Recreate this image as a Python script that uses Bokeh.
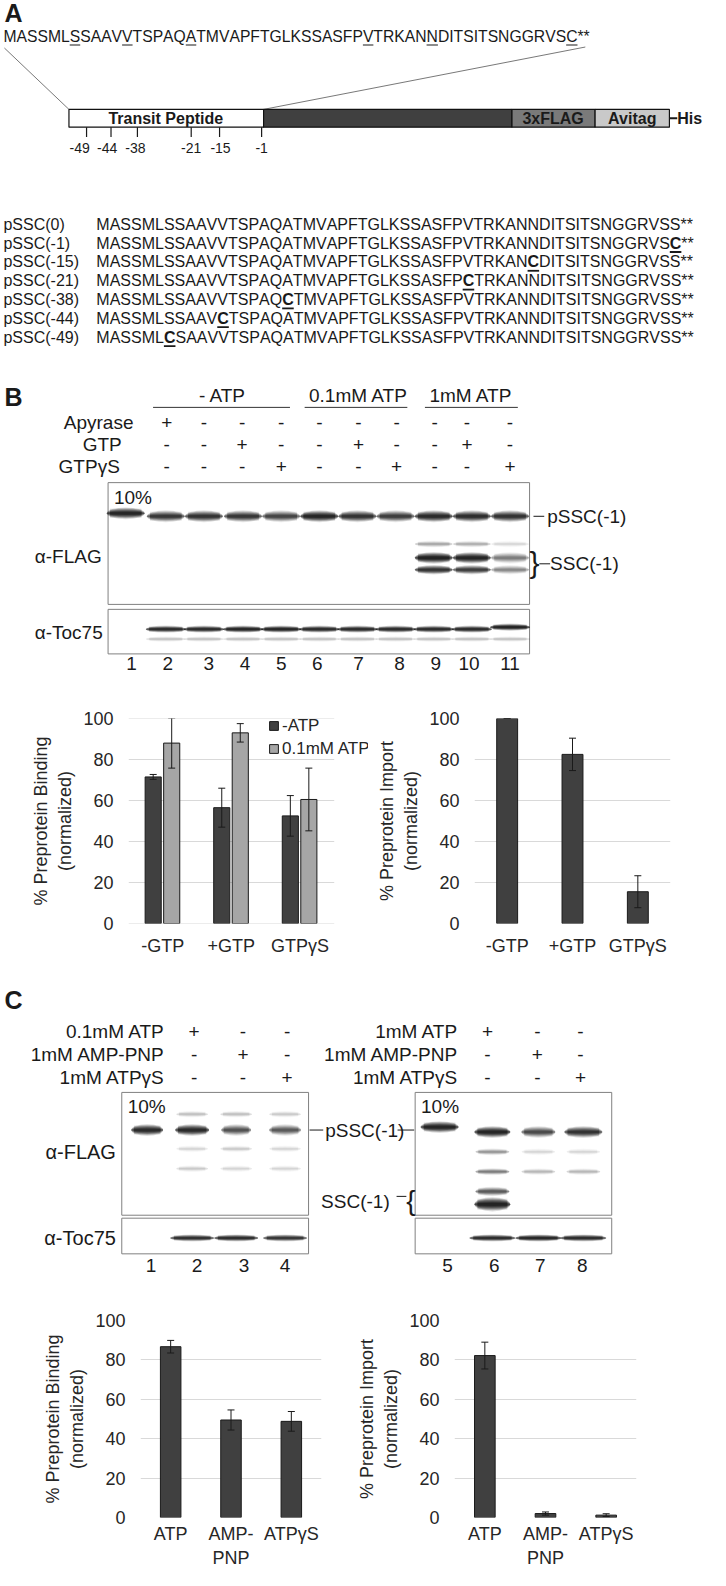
from bokeh.plotting import figure
from bokeh.layouts import column, row
from bokeh.models import Range1d, FactorRange, Legend, LegendItem, ColumnDataSource, FixedTicker
from bokeh.transform import dodge
from bokeh.core.properties import value
from bokeh.embed import file_html
from bokeh.resources import INLINE

# ------------------------------------------------------------------ data
B_CATS = ["-GTP", "+GTP", "GTPγS"]
B_BIND_NOATP = [71.5, 56.5, 52.5]
B_BIND_NOATP_ERR = [1.2, 9.5, 9.9]
B_BIND_LOWATP = [88.0, 93.0, 60.5]
B_BIND_LOWATP_ERR = [12.2, 4.5, 15.3]
B_IMPORT = [100.0, 82.5, 15.5]
B_IMPORT_ERR = [0.0, 7.9, 7.8]

C_CATS = ["ATP", "AMP-\nPNP", "ATPγS"]
C_BIND = [86.7, 49.5, 48.8]
C_BIND_ERR = [3.2, 5.1, 5.0]
C_IMPORT = [82.2, 2.0, 1.2]
C_IMPORT_ERR = [6.8, 0.8, 0.7]
Y_TICKS = [0, 20, 40, 60, 80, 100]

SEQ_WT = "MASSMLSSAAVVTSPAQATMVAPFTGLKSSASFPVTRKANNDITSITSNGGRVSS**"
SEQ_TOP = "MASSMLSSAAVVTSPAQATMVAPFTGLKSSASFPVTRKANNDITSITSNGGRVSC**"
TOP_UNDERLINED = [7, 12, 18, 35, 41, 55]
CONSTRUCTS = ["pSSC(0)", "pSSC(-1)", "pSSC(-15)", "pSSC(-21)", "pSSC(-38)", "pSSC(-44)", "pSSC(-49)"]
CYS_POS = [0, 55, 41, 35, 18, 12, 7]
SITE_LABELS = ["-49", "-44", "-38", "-21", "-15", "-1"]

B_LANES = [str(i) for i in range(1, 12)]
B_PSSC = [0.95, 0.75, 0.8, 0.75, 0.65, 0.95, 0.8, 0.7, 0.9, 0.85, 0.8]
B_SSC_HI = [0, 0, 0, 0, 0, 0, 0, 0, 1.0, 0.95, 0.35]
B_SSC_LO = [0, 0, 0, 0, 0, 0, 0, 0, 0.8, 0.7, 0.3]
B_SSC_FAINT = [0, 0, 0, 0, 0, 0, 0, 0, 0.2, 0.18, 0.08]
B_TOC75 = [0, 0.9, 0.9, 0.95, 0.95, 0.9, 0.9, 0.9, 0.9, 0.9, 1.0]
B_APYRASE = ["+", "-", "-", "-", "-", "-", "-", "-", "-", "-"]
B_GTP = ["-", "-", "+", "-", "-", "+", "-", "-", "+", "-"]
B_GTPGS = ["-", "-", "-", "+", "-", "-", "+", "-", "-", "+"]
B_HEADERS = ["- ATP", "0.1mM ATP", "1mM ATP"]

C_ROWS_LEFT = ["0.1mM ATP", "1mM AMP-PNP", "1mM ATPγS"]
C_ROWS_RIGHT = ["1mM ATP", "1mM AMP-PNP", "1mM ATPγS"]
C_SIGNS = [["+", "-", "-"], ["-", "+", "-"], ["-", "-", "+"]]
C_LANES_LEFT = ["1", "2", "3", "4"]
C_LANES_RIGHT = ["5", "6", "7", "8"]
C_PSSC_LEFT = [0.9, 0.9, 0.55, 0.5]
C_PSSC_RIGHT = [0.95, 0.95, 0.6, 0.8]
C_TOC_LEFT = [0, 0.85, 0.9, 0.8]
C_TOC_RIGHT = [0, 0.9, 0.95, 0.9]

# ------------------------------------------------------------------ layout helpers
SX = 710 / 726
SY = 1570 / 1586
FONT = "Liberation Sans"
TXT = "#1a1a1a"
DARK = "#404040"
LIGHT = "#a6a6a6"
AXTXT = "#262626"

AW = {'M': 833, 'A': 667, 'S': 667, 'L': 556, 'V': 667, 'T': 611, 'P': 667, 'Q': 778,
      'F': 611, 'G': 778, 'K': 667, 'R': 722, 'N': 722, 'D': 722, 'I': 278, 'C': 722, '*': 389}


def canvas(y0, y1):
    h = round((y1 - y0) * SY)
    p = figure(width=710, height=h, x_range=Range1d(0, 726), y_range=Range1d(y1, y0),
               output_backend="svg", toolbar_location=None, min_border=0,
               x_axis_location=None, y_axis_location=None)
    p.grid.visible = False
    p.outline_line_color = None
    return p


def T(p, x, y, s, size=19, align="left", bold=False, color=TXT, base="middle"):
    p.text(x=[x], y=[y], text=[s], text_font=value(FONT), text_font_size=f"{size}px",
           text_align=align, text_baseline=base, text_color=color,
           text_font_style="bold" if bold else "normal")


def seq_chars(p, x0, yc, s, size, bold_idx=(), under_idx=(), under_w=1.1):
    """Sequence drawn letter by letter so that marked letters line up exactly."""
    xs, x = [], x0
    for ch in s:
        xs.append(x)
        x += AW[ch] * size / 1000 / SX
    for bold in (False, True):
        idx = [i for i in range(len(s)) if (i in bold_idx) == bold]
        if not idx:
            continue
        p.text(x=[xs[i] for i in idx], y=[yc] * len(idx), text=[s[i] for i in idx],
               text_font=value(FONT), text_font_size=f"{size}px", text_align="left",
               text_baseline="middle", text_color=TXT,
               text_font_style="bold" if bold else "normal")
    if under_idx:
        uy = yc + 0.47 * size + 1.5
        x0s = [xs[i] for i in under_idx]
        x1s = [xs[i] + AW[s[i]] * size / 1000 / SX for i in under_idx]
        p.segment(x0=x0s, x1=x1s, y0=[uy] * len(x0s), y1=[uy] * len(x0s), line_color=TXT, line_width=under_w)


def box(p, x0, x1, y0, y1, color="#808080"):
    p.quad(left=[x0], right=[x1], top=[y0], bottom=[y1], fill_color=None,
           line_color=color, line_width=1)


def bands(p, xs, ys, ws, h, inten):
    keep = [k for k, i in enumerate(inten) if i > 0]
    X = [xs[k] for k in keep]
    Y = [ys[k] for k in keep]
    W = [ws[k] for k in keep]
    I = [inten[k] for k in keep]
    for hs, a in ((2.4, 0.14), (2.0, 0.18), (1.6, 0.2), (1.25, 0.22), (0.9, 0.25), (0.55, 0.3)):
        p.ellipse(x=X, y=Y, width=[w * 1.02 for w in W], height=[h * hs] * len(X), fill_color="#0d0d0d",
                  fill_alpha=[a * i for i in I], line_color=None)
        p.rect(x=X, y=Y, width=[w * 0.85 for w in W], height=[h * hs * 0.8] * len(X), fill_color="#0d0d0d",
               fill_alpha=[a * i * 0.6 for i in I], line_color=None)


# ------------------------------------------------------------------ canvas 1: panel A + blot B
c1 = canvas(0, 700)
T(c1, 4, 13, "A", 25, bold=True)
seq_chars(c1, 3, 36, SEQ_TOP, 15.7, under_idx=[k - 1 for k in TOP_UNDERLINED])
c1.segment(x0=[4, 598], y0=[48, 47], x1=[70, 269], y1=[110, 110], line_color="#555555", line_width=0.8)
seg_l = [70, 269, 523, 608]
seg_r = [269, 523, 608, 684]
c1.quad(left=seg_l, right=seg_r, top=[110] * 4, bottom=[128] * 4,
        fill_color=["#ffffff", "#404040", "#7a7a7a", "#c9c9c9"], line_color="#111111", line_width=1.2)
T(c1, 169, 119.5, "Transit Peptide", 16, align="center", bold=True)
T(c1, 565, 119.5, "3xFLAG", 16, align="center", bold=True)
T(c1, 646, 119.5, "Avitag", 16, align="center", bold=True)
c1.segment(x0=[684], x1=[692], y0=[119], y1=[119], line_color=TXT, line_width=2)
T(c1, 692, 119.5, "His", 16, bold=True)
tick_x = [88, 113, 140, 195, 224, 267]
c1.segment(x0=tick_x, x1=tick_x, y0=[128] * 6, y1=[138] * 6, line_color=TXT, line_width=1.2)
lab_x = [81, 109, 138, 195, 225, 267]
for x, s in zip(lab_x, SITE_LABELS):
    T(c1, x, 149, s, 14, align="center")
SEQ_SIZE = 16
for i, (name, k) in enumerate(zip(CONSTRUCTS, CYS_POS)):
    yc = 226 + 19 * i
    T(c1, 3, yc, name, SEQ_SIZE)
    if k == 0:
        seq_chars(c1, 98, yc, SEQ_WT, SEQ_SIZE)
    else:
        s = SEQ_WT[:k - 1] + "C" + SEQ_WT[k:]
        seq_chars(c1, 98, yc, s, SEQ_SIZE, bold_idx=[k - 1], under_idx=[k - 1], under_w=1.8)

# panel B blot
T(c1, 4, 400, "B", 25, bold=True)
for cx, s in zip([227, 366, 481], B_HEADERS):
    T(c1, cx, 399, s, 19, align="center")
c1.segment(x0=[156, 311, 434], x1=[296, 416, 529], y0=[411] * 3, y1=[411] * 3, line_color="#333333", line_width=1)
sign_x = [170, 208, 247, 287, 326, 366, 405, 444, 477, 521]
for yy, lab, rx, signs in ((426, "Apyrase", 136, B_APYRASE), (448, "GTP", 124, B_GTP), (471, "GTPγS", 122, B_GTPGS)):
    T(c1, rx, yy, lab, 19, align="right")
    for x, s in zip(sign_x, signs):
        T(c1, x, yy, s, 19, align="center")
box(c1, 110, 541, 487, 610)
box(c1, 110, 541, 615, 660)
T(c1, 116, 502, "10%", 19)
T(c1, 35, 562, "α-FLAG", 19)
T(c1, 35, 638, "α-Toc75", 19)
lane_x = [128, 169, 208, 248, 287, 326, 365, 404, 443, 482, 521]
wid = [38] * 11
bands(c1, lane_x, [518] + [521] * 10, wid, 5, B_PSSC)
bands(c1, lane_x, [549] * 11, wid, 3, B_SSC_FAINT)
bands(c1, lane_x, [563] * 11, wid, 5, B_SSC_HI)
bands(c1, lane_x, [575] * 11, wid, 4, B_SSC_LO)
bands(c1, lane_x, [635] * 10 + [633], [40] * 11, 3, B_TOC75)
bands(c1, lane_x, [645] * 11, [40] * 11, 2.5, [0] + [0.12] * 10)
c1.segment(x0=[545], x1=[556], y0=[521], y1=[521], line_color=TXT, line_width=1)
T(c1, 559, 521, "pSSC(-1)", 19)
T(c1, 541, 568, "}", 30)
c1.segment(x0=[551], x1=[562], y0=[569], y1=[569], line_color=TXT, line_width=1)
T(c1, 562, 569, "SSC(-1)", 19)
for x, s in zip([134, 171, 213, 250, 287, 324, 366, 408, 445, 479, 521], B_LANES):
    T(c1, x, 670, s, 19, align="center")


# ------------------------------------------------------------------ bar chart helpers
def style_axes(p, ylabel):
    p.outline_line_color = None
    p.xgrid.grid_line_color = None
    p.yaxis.ticker = FixedTicker(ticks=Y_TICKS)
    for ax in (p.xaxis[0], p.yaxis[0]):
        ax.axis_line_color = None
        ax.major_tick_line_color = None
        ax.minor_tick_line_color = None
        ax.major_tick_out = 0
        ax.major_tick_in = 0
        ax.major_label_text_font = FONT
        ax.major_label_text_font_size = "18px"
        ax.major_label_text_color = AXTXT
    p.yaxis.major_label_standoff = 15
    p.xaxis.major_label_standoff = 12
    p.yaxis.axis_label = ylabel
    p.yaxis.axis_label_text_font = FONT
    p.yaxis.axis_label_text_font_size = "18px"
    p.yaxis.axis_label_text_font_style = "normal"
    p.yaxis.axis_label_text_color = AXTXT
    p.yaxis.axis_label_standoff = 5


def borders(fig_x0, fig_x1, fx0, fx1, sec0, sec1, ytop, ybot):
    W = round((fig_x1 - fig_x0) * SX)
    H = round((sec1 - sec0) * SY)
    bl = round((fx0 - fig_x0) * SX)
    br = W - bl - round((fx1 - fx0) * SX)
    bt = round((ytop - sec0) * SY)
    bb = H - bt - round((ybot - ytop) * SY)
    return dict(width=W, height=H, min_border_left=bl, min_border_right=br,
                min_border_top=bt, min_border_bottom=bb)


def bar_fig(cats, fig_x0, fig_x1, fx0, fx1, sec0, sec1, ytop, ybot, ylabel):
    p = figure(x_range=FactorRange(*cats), y_range=Range1d(0, 100),
               output_backend="svg", toolbar_location=None,
               **borders(fig_x0, fig_x1, fx0, fx1, sec0, sec1, ytop, ybot))
    style_axes(p, ylabel)
    p.ygrid.grid_line_color = "#d9d9d9"
    p.ygrid.grid_line_width = 1.2
    return p


def add_bars(p, xcol, cats, vals, errs, offset, width, color):
    src = ColumnDataSource(dict(cat=cats, v=vals,
                                lo=[v - e for v, e in zip(vals, errs)],
                                hi=[v + e for v, e in zip(vals, errs)]))
    xs = dodge("cat", offset, range=p.x_range) if xcol is None else dodge("cat", offset)
    r = p.vbar(x=xs, top="v", width=width, source=src, fill_color=color, line_color="#1a1a1a", line_width=1)
    p.segment(x0=xs, x1=xs, y0="lo", y1="hi", source=src, line_color="#1a1a1a", line_width=1)
    p.scatter(x=xs, y="lo", marker="dash", size=7, source=src, line_color="#1a1a1a", line_width=1)
    p.scatter(x=xs, y="hi", marker="dash", size=7, source=src, line_color="#1a1a1a", line_width=1)
    return r


YLAB_BIND = "% Preprotein Binding\n(normalized)"
YLAB_IMP = "% Preprotein Import\n(normalized)"

# B left: numeric x so that the legend can sit past the last category (as in the reference)
UNIT = 70  # ref pixels per category
B_POS = [i + 0.5 for i in range(len(B_CATS))]
bL = figure(x_range=Range1d(0, 3.5), y_range=Range1d(0, 100), output_backend="svg", toolbar_location=None,
            **borders(0, 380, 131, 131 + 3.5 * UNIT, 700, 990, 725, 932))
style_axes(bL, YLAB_BIND)
bL.ygrid.grid_line_color = None
bL.xaxis.ticker = FixedTicker(ticks=B_POS)
bL.xaxis.major_label_overrides = {x: c for x, c in zip(B_POS, B_CATS)}
bL.segment(x0=[0] * len(Y_TICKS), x1=[len(B_CATS)] * len(Y_TICKS), y0=Y_TICKS, y1=Y_TICKS,
           line_color="#d9d9d9", line_width=1.2)
r1 = add_bars(bL, "num", B_POS, B_BIND_NOATP, B_BIND_NOATP_ERR, -0.14, 0.235, DARK)
r2 = add_bars(bL, "num", B_POS, B_BIND_LOWATP, B_BIND_LOWATP_ERR, 0.13, 0.235, LIGHT)
leg = Legend(items=[LegendItem(label="-ATP", renderers=[r1]), LegendItem(label="0.1mM ATP", renderers=[r2])],
             location=(round((274 - 131) * SX), round((932 - 766) * SY)), background_fill_alpha=0,
             border_line_color=None, padding=0, margin=0,
             spacing=2, glyph_width=11, glyph_height=11, label_height=21, label_standoff=3,
             label_text_font=FONT, label_text_font_size="17px", label_text_color=AXTXT)
bL.add_layout(leg)

bR = bar_fig(B_CATS, 380, 726, 484, 684, 700, 990, 723, 935, YLAB_IMP)
add_bars(bR, None, B_CATS, B_IMPORT, B_IMPORT_ERR, 0.0, 0.32, DARK)

# ------------------------------------------------------------------ canvas 2: panel C blots
c2 = canvas(990, 1300)
T(c2, 4, 1010, "C", 25, bold=True)
for i in range(3):
    yy = 1042 + 23 * i
    T(c2, 168, yy, C_ROWS_LEFT[i], 19, align="right")
    T(c2, 468, yy, C_ROWS_RIGHT[i], 19, align="right")
    for x, s in zip([198, 248, 293], C_SIGNS[i]):
        T(c2, x, yy, s, 19, align="center")
    for x, s in zip([498, 549, 593], C_SIGNS[i]):
        T(c2, x, yy, s, 19, align="center")
box(c2, 124, 315, 1103, 1227)
box(c2, 124, 315, 1230, 1266)
box(c2, 424, 625, 1103, 1227)
box(c2, 424, 625, 1230, 1266)
T(c2, 130, 1117, "10%", 19)
T(c2, 430, 1117, "10%", 19)
T(c2, 118, 1163, "α-FLAG", 20, align="right")
T(c2, 118, 1250, "α-Toc75", 20, align="right")
lx = [150, 196, 241, 291]
rx = [449, 503, 550, 596]
bands(c2, lx, [1141] * 4, [32, 34, 30, 32], 5, C_PSSC_LEFT)
bands(c2, lx, [1125] * 4, [32] * 4, 3, [0, 0.12, 0.12, 0.1])
bands(c2, lx, [1160] * 4, [32] * 4, 3, [0, 0.08, 0.1, 0.08])
bands(c2, lx, [1180] * 4, [32] * 4, 3, [0, 0.1, 0.08, 0.08])
bands(c2, rx, [1138, 1143, 1143, 1143], [38, 36, 34, 38], 5, C_PSSC_RIGHT)
bands(c2, rx, [1163] * 4, [34] * 4, 3, [0, 0.25, 0.08, 0.08])
bands(c2, rx, [1183] * 4, [34] * 4, 3, [0, 0.35, 0.15, 0.15])
bands(c2, rx, [1203] * 4, [34] * 4, 4, [0, 0.5, 0, 0])
bands(c2, rx, [1216] * 4, [36] * 4, 6, [0, 1.0, 0, 0])
bands(c2, lx, [1250] * 4, [44, 44, 44, 44], 3, C_TOC_LEFT)
bands(c2, rx, [1250] * 4, [46, 46, 46, 46], 3, C_TOC_RIGHT)
c2.segment(x0=[316, 406], x1=[330, 423], y0=[1141, 1141], y1=[1141, 1141], line_color=TXT, line_width=1)
T(c2, 332, 1141, "pSSC(-1)", 19)
T(c2, 398, 1213, "SSC(-1)", 19, align="right")
c2.segment(x0=[405], x1=[415], y0=[1208], y1=[1208], line_color=TXT, line_width=1)
T(c2, 415, 1212, "{", 28)
for x, s in zip([154, 201, 249, 291], C_LANES_LEFT):
    T(c2, x, 1278, s, 19, align="center")
for x, s in zip([457, 505, 552, 595], C_LANES_RIGHT):
    T(c2, x, 1278, s, 19, align="center")

# ------------------------------------------------------------------ panel C bar charts
cL = bar_fig(C_CATS, 0, 355, 143, 328, 1300, 1586, 1333, 1540, YLAB_BIND)
add_bars(cL, None, C_CATS, C_BIND, C_BIND_ERR, 0.0, 0.34, DARK)
cR = bar_fig(C_CATS, 355, 726, 464, 650, 1300, 1586, 1333, 1540, YLAB_IMP)
add_bars(cR, None, C_CATS, C_IMPORT, C_IMPORT_ERR, 0.0, 0.34, DARK)
cL.xaxis.major_label_standoff = 6
cR.xaxis.major_label_standoff = 6

layout = column(c1, row(bL, bR), c2, row(cL, cR))
open("out.html", "w").write(file_html(layout, INLINE))
